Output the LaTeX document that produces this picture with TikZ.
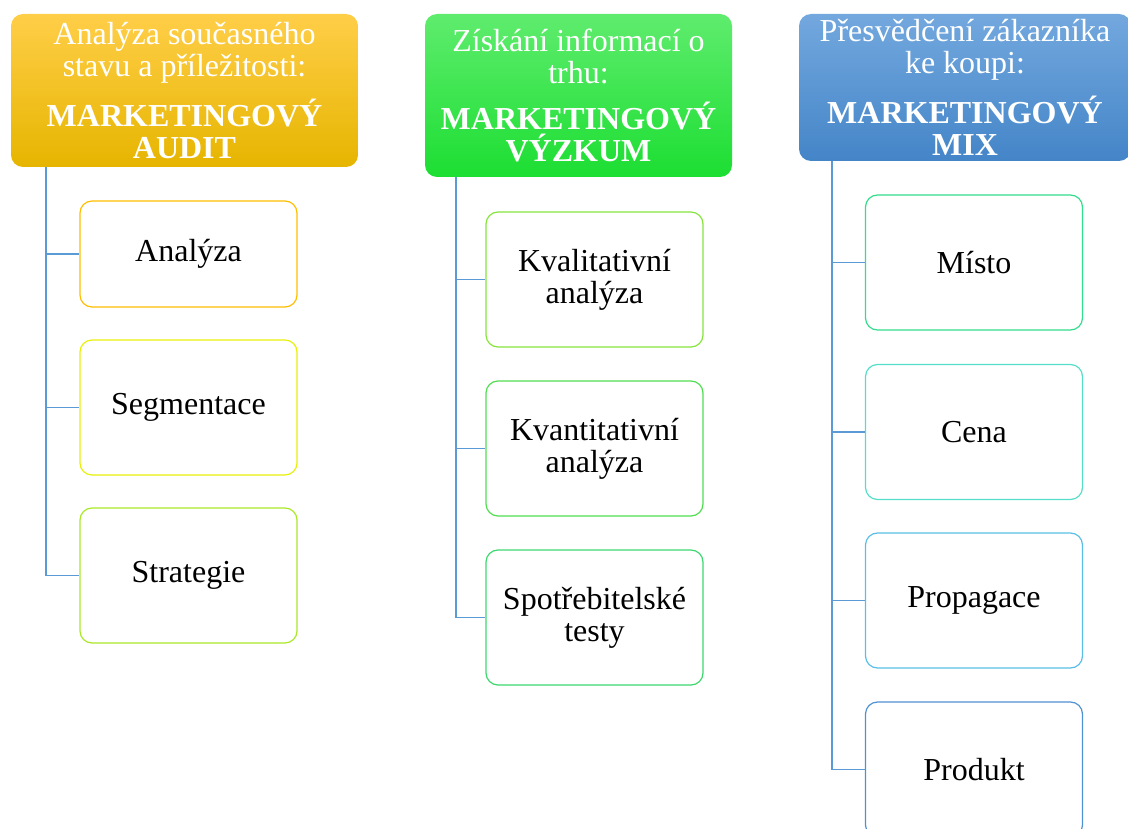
\documentclass[tikz,border=0pt]{standalone}
\usepackage{fontspec}
\setmainfont{Liberation Serif}
\usetikzlibrary{positioning}
\definecolor{lineblue}{RGB}{91,155,213}
\definecolor{auditTop}{RGB}{255,206,72}
\definecolor{auditMid}{RGB}{255,195,0}
\definecolor{auditBot}{RGB}{230,181,0}
\definecolor{vyzkumTop}{RGB}{95,236,110}
\definecolor{vyzkumMid}{RGB}{40,240,60}
\definecolor{vyzkumBot}{RGB}{28,222,50}
\definecolor{mixTop}{RGB}{115,168,222}
\definecolor{mixMid}{RGB}{88,152,216}
\definecolor{mixBot}{RGB}{68,133,200}

\begin{document}
\begin{tikzpicture}[x=1pt,y=-1pt,
		head/.style={rounded corners=12pt, text=white, align=center, inner sep=0pt,
			font=\fontsize{32}{32}\selectfont},
		item/.style={draw, line width=1.2pt, rounded corners=12pt, fill=white, align=center,
			inner sep=0pt, minimum width=217pt, minimum height=135pt,
			font=\fontsize{32}{32}\selectfont},
		conn/.style={draw=lineblue, line width=1.5pt}]
				\useasboundingbox (0,0) rectangle (1128,829);
				% headers
				\node[head, minimum width=347pt, minimum height=153pt, top color=auditTop, middle color=auditMid, bottom color=auditBot] (audit) at (184.5,90.5)
					{Analýza současného\\stavu a příležitosti:\\[14pt]\textbf{MARKETINGOVÝ}\\\textbf{AUDIT}};
				\node[head, minimum width=307pt, minimum height=163pt, top color=vyzkumTop, middle color=vyzkumMid, bottom color=vyzkumBot] (vyzkum) at (578.5,95.5)
					{Získání informací o\\trhu:\\[14pt]\textbf{MARKETINGOVÝ}\\\textbf{VÝZKUM}};
				\node[head, minimum width=332pt, minimum height=147pt, top color=mixTop, middle color=mixMid, bottom color=mixBot] (mix) at (965,87.5)
					{Přesvědčení zákazníka\\ke koupi:\\[14pt]\textbf{MARKETINGOVÝ}\\\textbf{MIX}};
				% audit
				\node[item, draw={rgb,255:red,255;green,190;blue,0}, minimum height=106pt] (a1) at (188.5,254) {Analýza};
				\node[item, draw={rgb,255:red,232;green,240;blue,10}] (a2) at (188.5,407.5) {Segmentace};
				\node[item, draw={rgb,255:red,170;green,232;blue,40}] (a3) at (188.5,575.5) {Strategie};
				% vyzkum
				\node[item, draw={rgb,255:red,135;green,228;blue,60}] (v1) at (594.5,279.5) {Kvalitativní\\analýza};
				\node[item, draw={rgb,255:red,80;green,222;blue,80}] (v2) at (594.5,448.5) {Kvantitativní\\analýza};
				\node[item, draw={rgb,255:red,60;green,216;blue,110}] (v3) at (594.5,617.5) {Spotřebitelské\\testy};
				% mix
				\node[item, draw={rgb,255:red,50;green,222;blue,140}] (m1) at (974,262.5) {Místo};
				\node[item, draw={rgb,255:red,85;green,222;blue,200}] (m2) at (974,432) {Cena};
				\node[item, draw={rgb,255:red,90;green,190;blue,230}] (m3) at (974,600.5) {Propagace};
				\node[item, draw={rgb,255:red,80;green,145;blue,210}] (m4) at (974,769.5) {Produkt};
				% connectors
				\draw[conn] ([xshift=35pt]audit.south west) |- (a1.west);
				\draw[conn] ([xshift=35pt]audit.south west) |- (a2.west);
				\draw[conn] ([xshift=35pt]audit.south west) |- (a3.west);
				\draw[conn] ([xshift=31pt]vyzkum.south west) |- (v1.west);
				\draw[conn] ([xshift=31pt]vyzkum.south west) |- (v2.west);
				\draw[conn] ([xshift=31pt]vyzkum.south west) |- (v3.west);
				\draw[conn] ([xshift=33pt]mix.south west) |- (m1.west);
				\draw[conn] ([xshift=33pt]mix.south west) |- (m2.west);
				\draw[conn] ([xshift=33pt]mix.south west) |- (m3.west);
				\draw[conn] ([xshift=33pt]mix.south west) |- (m4.west);
			\end{tikzpicture}
\end{document}
